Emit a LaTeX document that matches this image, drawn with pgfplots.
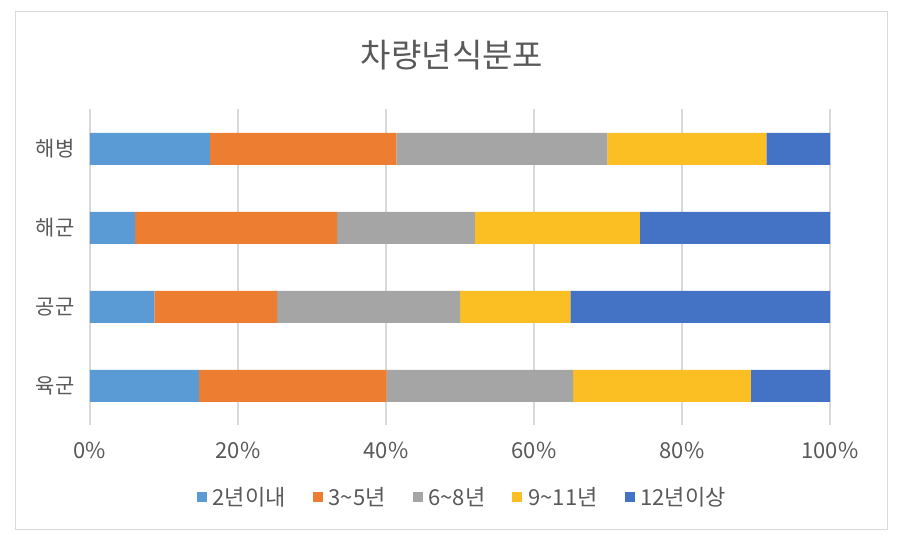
\documentclass[border=0pt]{standalone}
\usepackage{pgfplots}
\pgfplotsset{compat=1.18}
\usepackage{fontspec}
\setmainfont{Noto Sans CJK KR}
\definecolor{c1}{HTML}{5B9BD5}
\definecolor{c2}{HTML}{ED7D31}
\definecolor{c3}{HTML}{A5A5A5}
\definecolor{c4}{HTML}{FBBF24}
\definecolor{c5}{HTML}{4472C4}
\definecolor{txt}{HTML}{595959}
\definecolor{grd}{HTML}{D9D9D9}
\begin{document}
\begin{tikzpicture}
\useasboundingbox (0,0) rectangle (914pt,549pt);
\draw[grd, line width=1pt] (15pt,19pt) rectangle (887pt,537pt);
\node[text=txt, font=\fontsize{33}{38}\selectfont] at (452pt,494pt) {차량년식분포};
\begin{axis}[
  at={(90pt,123.5pt)}, anchor=south west,
  scale only axis, width=740pt, height=316pt,
  xbar stacked, bar width=32pt,
  xmin=0, xmax=100, ymin=-0.5, ymax=3.5,
  xtick={0,20,40,60,80,100},
  xticklabel={\pgfmathprintnumber{\tick}\%},
  /pgf/number format/assume math mode=true,
  ytick={0,1,2,3},
  yticklabels={육군,공군,해군,해병},
  xmajorgrids, grid style={grd, line width=1.3pt},
  axis line style={draw=none},
  major tick length=0pt,
  tick label style={text=txt, font=\fontsize{22}{26}\selectfont},
  yticklabel style={xshift=-12pt, font=\fontsize{21}{25}\selectfont},
  xticklabel style={yshift=-13pt},
  legend columns=5,
  legend style={at={(0.503,-0.226)}, anchor=center, draw=none,
    font=\fontsize{22}{26}\selectfont, text=txt,
    /tikz/every odd column/.append style={column sep=4pt},
    /tikz/every even column/.append style={column sep=25pt}},
  legend image code/.code={\fill[#1] (0pt,-5pt) rectangle (10pt,5pt);},
]
\addplot[fill=c1, draw=none] coordinates {(14.7,0) (8.7,1) (6.1,2) (16.2,3)};
\addplot[fill=c2, draw=none] coordinates {(25.4,0) (16.6,1) (27.3,2) (25.2,3)};
\addplot[fill=c3, draw=none] coordinates {(25.2,0) (24.7,1) (18.6,2) (28.5,3)};
\addplot[fill=c4, draw=none] coordinates {(24.0,0) (14.9,1) (22.3,2) (21.5,3)};
\addplot[fill=c5, draw=none] coordinates {(10.7,0) (35.1,1) (25.7,2) (8.6,3)};
\legend{2년이내,3\textasciitilde5년,6\textasciitilde8년,9\textasciitilde11년,12년이상}
\end{axis}
\end{tikzpicture}
\end{document}
